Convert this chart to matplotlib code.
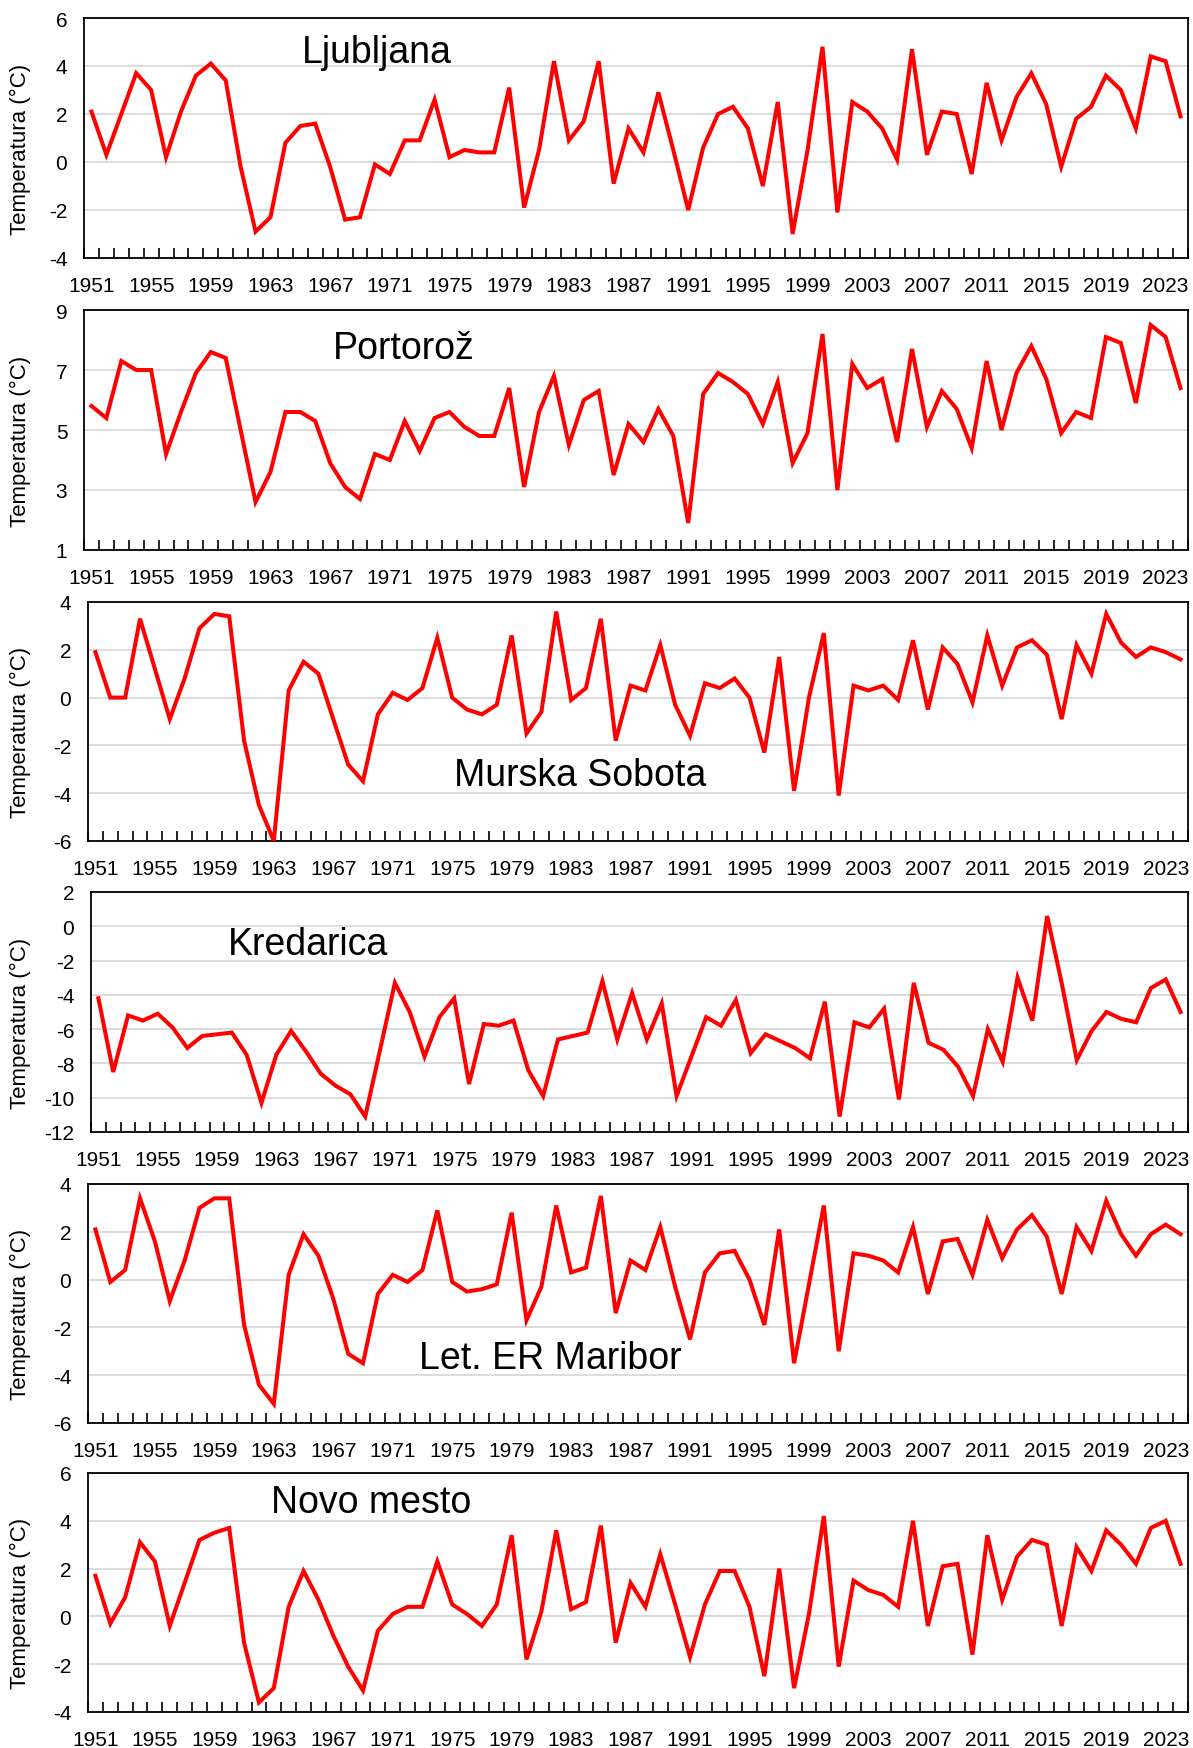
#!/usr/bin/env python3

import numpy as np
import matplotlib
matplotlib.use("Agg")
import matplotlib.pyplot as plt

plt.rcParams['font.family'] = ['Liberation Sans', 'DejaVu Sans']
plt.rcParams['axes.unicode_minus'] = False

# --- data (annual mean winter temperature) ---
years = np.arange(1951, 2025)

ljubljana = [2.1, 0.3, 2.0, 3.7, 3.0, 0.2, 2.1, 3.6, 4.1, 3.4,
             -0.2, -2.9, -2.3, 0.8, 1.5, 1.6, -0.2, -2.4, -2.3, -0.1,
             -0.5, 0.9, 0.9, 2.6, 0.2, 0.5, 0.4, 0.4, 3.1, -1.9,
             0.5, 4.2, 0.9, 1.7, 4.2, -0.9, 1.4, 0.4, 2.9, 0.5,
             -2.0, 0.6, 2.0, 2.3, 1.4, -1.0, 2.5, -3.0, 0.5, 4.8,
             -2.1, 2.5, 2.1, 1.4, 0.1, 4.7, 0.3, 2.1, 2.0, -0.5,
             3.3, 0.9, 2.7, 3.7, 2.4, -0.2, 1.8, 2.3, 3.6, 3.0,
             1.4, 4.4, 4.2, 1.9]

portoroz = [5.8, 5.4, 7.3, 7.0, 7.0, 4.2, 5.6, 6.9, 7.6, 7.4,
            5.0, 2.6, 3.6, 5.6, 5.6, 5.3, 3.9, 3.1, 2.7, 4.2,
            4.0, 5.3, 4.3, 5.4, 5.6, 5.1, 4.8, 4.8, 6.4, 3.1,
            5.6, 6.8, 4.5, 6.0, 6.3, 3.5, 5.2, 4.6, 5.7, 4.8,
            1.9, 6.2, 6.9, 6.6, 6.2, 5.2, 6.6, 3.9, 4.9, 8.2,
            3.0, 7.2, 6.4, 6.7, 4.6, 7.7, 5.1, 6.3, 5.7, 4.4,
            7.3, 5.0, 6.9, 7.8, 6.7, 4.9, 5.6, 5.4, 8.1, 7.9,
            5.9, 8.5, 8.1, 6.4]

murska_sobota = [1.9, 0.0, 0.0, 3.3, 1.2, -0.9, 0.8, 2.9, 3.5, 3.4,
                 -1.8, -4.5, -6.0, 0.3, 1.5, 1.0, -0.9, -2.8, -3.5, -0.7,
                 0.2, -0.1, 0.4, 2.5, 0.0, -0.5, -0.7, -0.3, 2.6, -1.5,
                 -0.6, 3.6, -0.1, 0.4, 3.3, -1.8, 0.5, 0.3, 2.2, -0.3,
                 -1.6, 0.6, 0.4, 0.8, 0.0, -2.3, 1.7, -3.9, 0.0, 2.7,
                 -4.1, 0.5, 0.3, 0.5, -0.1, 2.4, -0.5, 2.1, 1.4, -0.2,
                 2.6, 0.5, 2.1, 2.4, 1.8, -0.9, 2.2, 1.0, 3.5, 2.3,
                 1.7, 2.1, 1.9, 1.6]

kredarica = [-4.2, -8.5, -5.2, -5.5, -5.1, -5.9, -7.1, -6.4, -6.3, -6.2,
             -7.5, -10.3, -7.5, -6.1, -7.3, -8.6, -9.3, -9.8, -11.1, -7.2,
             -3.3, -5.0, -7.6, -5.3, -4.2, -9.2, -5.7, -5.8, -5.5, -8.4,
             -9.9, -6.6, -6.4, -6.2, -3.2, -6.6, -3.9, -6.6, -4.5, -9.9,
             -7.6, -5.3, -5.8, -4.3, -7.4, -6.3, -6.7, -7.1, -7.7, -4.4,
             -11.1, -5.6, -5.9, -4.8, -10.1, -3.3, -6.8, -7.2, -8.2, -9.9,
             -6.0, -7.9, -3.0, -5.5, 0.6, -3.4, -7.8, -6.1, -5.0, -5.4,
             -5.6, -3.6, -3.1, -5.0]

maribor = [2.1, -0.1, 0.4, 3.4, 1.6, -0.9, 0.8, 3.0, 3.4, 3.4,
           -1.9, -4.4, -5.2, 0.2, 1.9, 1.0, -0.8, -3.1, -3.5, -0.6,
           0.2, -0.1, 0.4, 2.9, -0.1, -0.5, -0.4, -0.2, 2.8, -1.7,
           -0.3, 3.1, 0.3, 0.5, 3.5, -1.4, 0.8, 0.4, 2.2, -0.3,
           -2.5, 0.3, 1.1, 1.2, 0.0, -1.9, 2.1, -3.5, -0.2, 3.1,
           -3.0, 1.1, 1.0, 0.8, 0.3, 2.2, -0.6, 1.6, 1.7, 0.2,
           2.5, 0.9, 2.1, 2.7, 1.8, -0.6, 2.2, 1.2, 3.3, 1.9,
           1.0, 1.9, 2.3, 1.9]

novo_mesto = [1.7, -0.3, 0.8, 3.1, 2.3, -0.4, 1.4, 3.2, 3.5, 3.7,
              -1.1, -3.6, -3.0, 0.4, 1.9, 0.7, -0.8, -2.1, -3.1, -0.6,
              0.1, 0.4, 0.4, 2.3, 0.5, 0.1, -0.4, 0.5, 3.4, -1.8,
              0.2, 3.6, 0.3, 0.6, 3.8, -1.1, 1.4, 0.4, 2.6, 0.5,
              -1.7, 0.5, 1.9, 1.9, 0.4, -2.5, 2.0, -3.0, 0.1, 4.2,
              -2.1, 1.5, 1.1, 0.9, 0.4, 4.0, -0.4, 2.1, 2.2, -1.6,
              3.4, 0.7, 2.5, 3.2, 3.0, -0.4, 2.9, 1.9, 3.6, 3.0,
              2.2, 3.7, 4.0, 2.2]

stations = ['Ljubljana', 'Portorož', 'Murska Sobota', 'Kredarica',
            'Let. ER Maribor', 'Novo mesto']
series = [ljubljana, portoroz, murska_sobota, kredarica, maribor, novo_mesto]
y_ranges = [(-4, 6), (1, 9), (-6, 4), (-12, 2), (-6, 4), (-4, 6)]

# --- layout (pixels) ---
W, H = 1193, 1749
# left, top, right, bottom of each plot area
boxes = [(84, 19, 1188, 259), (84, 311, 1188, 551), (88, 603, 1188, 842),
         (91, 893, 1188, 1133), (88, 1185, 1188, 1424), (88, 1474, 1188, 1713)]
# station name position in axes fraction
name_pos = [(0.265, 0.86), (0.29, 0.84), (0.447, 0.275),
            (0.198, 0.785), (0.42, 0.272), (0.257, 0.88)]

fig = plt.figure(figsize=(W / 100, H / 100), dpi=100)
fig.patch.set_facecolor('white')

x = np.arange(len(years))
label_idx = np.arange(0, len(years), 4)

for i, (name, vals, (lo, hi), box, npos) in enumerate(
        zip(stations, series, y_ranges, boxes, name_pos)):
    l, t, r, b = box
    ax = fig.add_axes([l / W, 1 - b / H, (r - l) / W, (b - t) / H])

    ax.plot(x, vals, color='#FF0000', linewidth=2.9, solid_joinstyle='miter',
            zorder=3)

    ax.set_xlim(-0.5, len(years) - 0.5)
    ax.set_ylim(lo, hi)

    # y axis
    ax.set_yticks(np.arange(lo, hi + 0.1, 2))
    ax.tick_params(axis='y', length=0, pad=12, labelsize=15)
    ax.grid(True, axis='y', color='#d9d9d9', linewidth=1.3, zorder=1)

    # x axis: labels every 4 years, small ticks between categories
    ax.set_xticks(label_idx)
    ax.set_xticklabels([str(years[k]) for k in label_idx])
    ax.set_xticks(np.arange(-0.5, len(years), 1), minor=True)
    ax.tick_params(axis='x', which='major', length=0, pad=13, labelsize=15)
    ax.tick_params(axis='x', which='minor', direction='in', length=7,
                   width=1.2, color='black')

    for sp in ax.spines.values():
        sp.set_color('black')
        sp.set_linewidth(1.3)

    ax.set_ylabel('Temperatura (°C)', fontsize=16, va='center')
    yc = (t + b) / 2 + 10
    ax.yaxis.set_label_coords(20 / W, 1 - yc / H, transform=fig.transFigure)

    ax.text(npos[0], npos[1], name, transform=ax.transAxes, fontsize=27,
            ha='center', va='center', color='black', zorder=4)

plt.savefig('out.png', dpi=100, facecolor='white')
